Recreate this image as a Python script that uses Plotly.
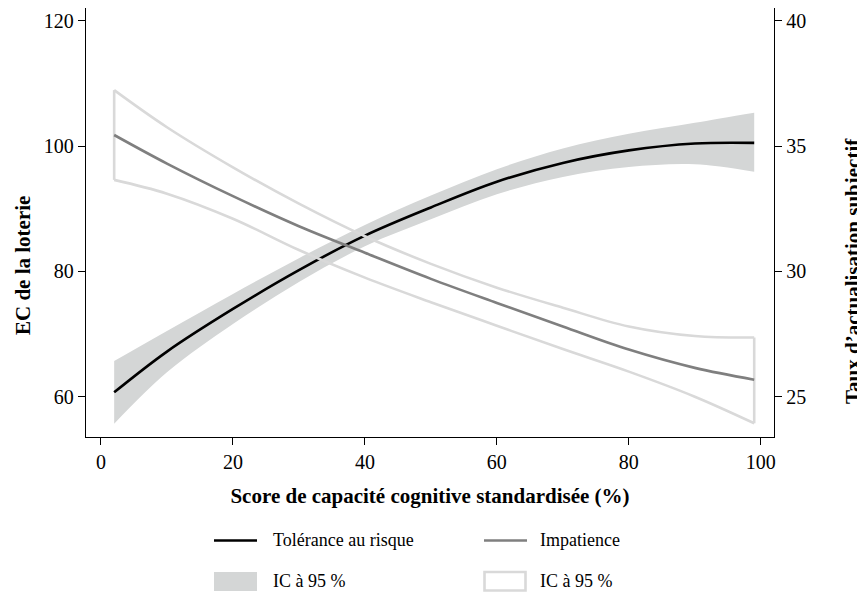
import plotly.graph_objects as go

# ---------------- data ----------------
score = [2, 10, 20, 30, 40, 50, 60, 70, 80, 90, 99]

tolerance = [60.7, 67.2, 74.0, 80.2, 85.7, 90.2, 94.3, 97.3, 99.3, 100.4, 100.5]
tolerance_hi = [65.7, 70.5, 76.4, 82.1, 87.4, 92.1, 96.3, 99.6, 101.95, 103.7, 105.3]
tolerance_lo = [55.7, 63.9, 71.6, 78.3, 84.0, 88.3, 92.3, 95.05, 96.65, 97.1, 95.9]

impatience = [35.44, 34.3, 33.0, 31.8, 30.74, 29.7, 28.74, 27.8, 26.88, 26.15, 25.68]
impatience_hi = [37.23, 35.75, 34.15, 32.7, 31.4, 30.3, 29.35, 28.55, 27.8, 27.42, 27.36]
impatience_lo = [33.65, 33.1, 32.1, 30.85, 29.75, 28.77, 27.83, 26.9, 26.0, 25.0, 23.94]

x_ticks = [0, 20, 40, 60, 80, 100]
y_ticks = [60, 80, 100, 120]
y2_ticks = [25, 30, 35, 40]

legend_labels = ["Tolérance au risque", "Impatience", "IC à 95 %", "IC à 95 %"]

# ---------------- styles ----------------
FONT = "Liberation Serif"
BLACK = "#000000"
GREY_LINE = "#7f7f7f"
BAND = "#d4d6d6"
CI_LINE = "#d9d9d9"

# page body has an 8px margin: the figure starts at (8, 8) in the window
OFF = 8
W, H = 865 - OFF, 593 - OFF
PLOT_L, PLOT_R, PLOT_T, PLOT_B = 86, 774, 8, 437          # window pixels
ML, MR, MT, MB = PLOT_L - OFF, 865 - PLOT_R, PLOT_T - OFF, 593 - PLOT_B
PW, PH = PLOT_R - PLOT_L, PLOT_B - PLOT_T
PX_PER_UNIT = 6.267
Y_MIN = 53.57
Y_MAX = Y_MIN + PH / PX_PER_UNIT
Y2_MIN = 25 + (Y_MIN - 60) / 4
Y2_MAX = 25 + (Y_MAX - 60) / 4


def px(xp):
    return (xp - PLOT_L) / PW


def py(yp):
    return (PLOT_B - yp) / PH


fig = go.Figure()

# grey band (left axis)
fig.add_trace(go.Scatter(x=score, y=tolerance_lo, mode="lines",
                         line=dict(width=0, shape="spline", color=BAND),
                         hoverinfo="skip", showlegend=False))
fig.add_trace(go.Scatter(x=score, y=tolerance_hi, mode="lines", fill="tonexty",
                         fillcolor=BAND, line=dict(width=0, shape="spline", color=BAND),
                         hoverinfo="skip", showlegend=False))
# tolerance line
fig.add_trace(go.Scatter(x=score, y=tolerance, mode="lines",
                         line=dict(color=BLACK, width=2.6, shape="spline"),
                         name=legend_labels[0], showlegend=False))

# impatience CI outline (right axis)
fig.add_trace(go.Scatter(x=score, y=impatience_hi, mode="lines", yaxis="y2",
                         line=dict(color=CI_LINE, width=2.6, shape="spline"),
                         hoverinfo="skip", showlegend=False))
fig.add_trace(go.Scatter(x=score, y=impatience_lo, mode="lines", yaxis="y2",
                         line=dict(color=CI_LINE, width=2.6, shape="spline"),
                         hoverinfo="skip", showlegend=False))
fig.add_trace(go.Scatter(x=[score[0], score[0], None, score[-1], score[-1]],
                         y=[impatience_hi[0], impatience_lo[0], None,
                            impatience_hi[-1], impatience_lo[-1]],
                         mode="lines", yaxis="y2",
                         line=dict(color=CI_LINE, width=2.6),
                         hoverinfo="skip", showlegend=False))
# impatience line
fig.add_trace(go.Scatter(x=score, y=impatience, mode="lines", yaxis="y2",
                         line=dict(color=GREY_LINE, width=2.6, shape="spline"),
                         name=legend_labels[1], showlegend=False))

# ---------------- manual legend ----------------
shapes = [
    dict(type="line", xref="paper", yref="paper", x0=px(214), x1=px(257),
         y0=py(540.5), y1=py(540.5), line=dict(color=BLACK, width=2.6)),
    dict(type="line", xref="paper", yref="paper", x0=px(484), x1=px(527),
         y0=py(540.5), y1=py(540.5), line=dict(color=GREY_LINE, width=2.6)),
    dict(type="rect", xref="paper", yref="paper", x0=px(214), x1=px(257),
         y0=py(591), y1=py(572), fillcolor=BAND, line=dict(width=0)),
    dict(type="rect", xref="paper", yref="paper", x0=px(484.5), x1=px(525.5),
         y0=py(590.5), y1=py(572), fillcolor="white", line=dict(color=CI_LINE, width=2.6)),
]
leg_font = dict(family=FONT, size=18, color=BLACK)
title_font = dict(family=FONT, size=21, color=BLACK, weight="bold")
annotations = [
    dict(text=legend_labels[0], xref="paper", yref="paper", x=px(271), y=py(540),
         xanchor="left", yanchor="middle", showarrow=False, font=leg_font),
    dict(text=legend_labels[1], xref="paper", yref="paper", x=px(537.5), y=py(540),
         xanchor="left", yanchor="middle", showarrow=False, font=leg_font),
    dict(text=legend_labels[2], xref="paper", yref="paper", x=px(271), y=py(581),
         xanchor="left", yanchor="middle", showarrow=False, font=leg_font),
    dict(text=legend_labels[3], xref="paper", yref="paper", x=px(537.5), y=py(581),
         xanchor="left", yanchor="middle", showarrow=False, font=leg_font),
    # y axis titles
    dict(text="EC de la loterie", xref="paper", yref="paper", x=px(9), y=py(266),
         xanchor="left", yanchor="middle", textangle=-90, showarrow=False,
         font=title_font),
    dict(text="Taux d’actualisation subjectif", xref="paper", yref="paper",
         x=px(853), y=py(271), xanchor="center", yanchor="middle", textangle=-90,
         showarrow=False, font=title_font),
]

axis_common = dict(showline=True, linecolor=BLACK, linewidth=1.4, ticks="outside",
                   ticklen=7, tickwidth=1.4, tickcolor=BLACK, showgrid=False,
                   zeroline=False, tickfont=dict(family=FONT, size=20, color=BLACK))

fig.update_layout(
    width=W, height=H,
    margin=dict(l=ML, r=MR, t=MT, b=MB, pad=0),
    paper_bgcolor="white", plot_bgcolor="white",
    showlegend=False,
    xaxis=dict(range=[-2.27, 102.0], tickvals=x_ticks, **axis_common,
               title=dict(text="Score de capacité cognitive standardisée (%)",
                          font=title_font, standoff=16)),
    yaxis=dict(range=[Y_MIN, Y_MAX], tickvals=y_ticks, **axis_common),
    yaxis2=dict(range=[Y2_MIN, Y2_MAX], tickvals=y2_ticks, overlaying="y", side="right",
                **axis_common),
    shapes=shapes,
    annotations=annotations,
)

fig.write_html("out.html")
